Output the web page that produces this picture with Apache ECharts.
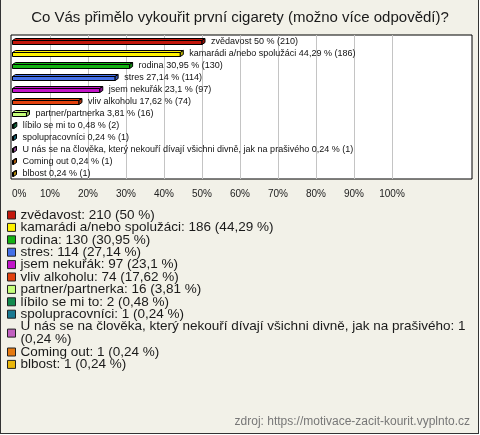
<!DOCTYPE html>
<html>
<head>
<meta charset="utf-8">
<script src="https://cdn.jsdelivr.net/npm/echarts@6/dist/echarts.min.js"></script>
<style>
html,body{margin:0;padding:0;background:#fff;}
#wrap{width:479px;height:434px;border-right:1px solid #333;border-bottom:1px solid #333;border-left:1px solid #333;box-sizing:border-box;background:#f2f1e8;}
#chart{width:478px;height:434px;}
</style>
</head>
<body>
<div id="wrap"><div id="chart"></div></div>
<script>
const titleText = 'Co Vás přimělo vykouřit první cigarety (možno více odpovědí)?';
const sourceText = 'zdroj: https://motivace-zacit-kourit.vyplnto.cz';
const categories = [
  'zvědavost',
  'kamarádi a/nebo spolužáci',
  'rodina',
  'stres',
  'jsem nekuřák',
  'vliv alkoholu',
  'partner/partnerka',
  'líbilo se mi to',
  'spolupracovníci',
  'U nás se na člověka, který nekouří dívají všichni divně, jak na prašivého',
  'Coming out',
  'blbost'
];
const counts = [210, 186, 130, 114, 97, 74, 16, 2, 1, 1, 1, 1];
const percents = [50, 44.29, 30.95, 27.14, 23.1, 17.62, 3.81, 0.48, 0.24, 0.24, 0.24, 0.24];
const colors = ['#c3170c', '#fff200', '#12b212', '#4470e8', '#c214c8', '#e2410e',
                '#c6ff7a', '#128a4e', '#1a7a92', '#c160c0', '#e57a12', '#e9b60a'];
const tickValues = [0, 10, 20, 30, 40, 50, 60, 70, 80, 90, 100];

const FONT = "'Liberation Sans', Arial, sans-serif";
const fmtPct = v => String(v).replace('.', ',');

function shade(hex, f) {
  const n = parseInt(hex.slice(1), 16);
  const r = Math.round(((n >> 16) & 255) * f), g = Math.round(((n >> 8) & 255) * f), b = Math.round((n & 255) * f);
  return 'rgb(' + r + ',' + g + ',' + b + ')';
}

function renderBar(params, api) {
  const i = params.seriesIndex;
  const v = api.value(0);
  const c = api.value(1);
  const p0 = api.coord([0, c]);
  const p1 = api.coord([v, c]);
  const x0 = Math.round(p0[0]) + 0.5;
  const x1 = Math.max(p1[0], x0 + 1);
  const yc = Math.round(p0[1]) + 0.5;
  const d = 3;
  const col = colors[i];
  const stroke = {stroke: '#000', lineWidth: 1};
  return {
    type: 'group',
    children: [
      {type: 'polygon', shape: {points: [[x0, yc - 1], [x1, yc - 1], [x1, yc + 3], [x0, yc + 3]]},
       style: Object.assign({fill: col}, stroke)},
      {type: 'polygon', shape: {points: [[x0, yc - 1], [x0 + d, yc - 3], [x1 + d, yc - 3], [x1, yc - 1]]},
       style: Object.assign({fill: col}, stroke)},
      {type: 'polygon', shape: {points: [[x1, yc - 1], [x1 + d, yc - 3], [x1 + d, yc + 1], [x1, yc + 3]]},
       style: Object.assign({fill: shade(col, 0.75)}, stroke)},
      {type: 'text', x: x1 + d + 6, y: yc,
       style: {text: categories[i] + ' ' + fmtPct(percents[i]) + ' % (' + counts[i] + ')',
               fill: '#111', font: '9px ' + FONT, verticalAlign: 'middle', align: 'left'}}
    ]
  };
}

const series = categories.map((name, i) => ({
  type: 'custom',
  name: name,
  xAxisIndex: 0,
  yAxisIndex: 0,
  itemStyle: {color: colors[i]},
  renderItem: renderBar,
  encode: {x: 0, y: 1},
  clip: false,
  data: [[percents[i], name]]
}));

const chart = echarts.init(document.getElementById('chart'), null, {renderer: 'canvas'});
chart.setOption({
  animation: false,
  textStyle: {fontFamily: FONT},
  title: [
    {text: titleText, left: 'center', top: 10, padding: 0,
     textStyle: {fontSize: 15, fontWeight: 'normal', color: '#1a1a1a', fontFamily: FONT}},
    {text: sourceText, right: 9, bottom: 6, padding: 0,
     textStyle: {fontSize: 12, fontWeight: 'normal', color: '#777', fontFamily: FONT}}
  ],
  grid: [
    {left: 11, top: 35, width: 380, height: 144, containLabel: false},
    {left: 10, top: 35, width: 461, height: 144, show: true, backgroundColor: '#fff',
     borderColor: '#000', borderWidth: 1, z: -5}
  ],
  xAxis: [
    {type: 'value', gridIndex: 0, min: tickValues[0], max: tickValues[tickValues.length - 1], interval: 10,
     axisLine: {show: false}, axisTick: {show: false},
     splitLine: {show: true, showMinLine: false, lineStyle: {color: '#c4c4c4', width: 1}},
     axisLabel: {formatter: v => v + '%', fontSize: 10, color: '#222', margin: 10, alignMinLabel: 'left', fontFamily: FONT}},
    {type: 'value', gridIndex: 1, show: false}
  ],
  yAxis: [
    {type: 'category', gridIndex: 0, data: categories, inverse: true, show: false},
    {type: 'value', gridIndex: 1, show: false}
  ],
  legend: {
    data: categories,
    orient: 'vertical',
    left: 6,
    top: 208,
    itemWidth: 8,
    itemHeight: 8,
    itemGap: -1.6,
    icon: 'rect',
    itemStyle: {borderColor: '#222', borderWidth: 1},
    selectedMode: false,
    padding: 0,
    formatter: name => {
      const i = categories.indexOf(name);
      const sep = name.length > 50 ? '\n' : ' ';
      return name + ': ' + counts[i] + sep + '(' + fmtPct(percents[i]) + ' %)';
    },
    textStyle: {fontSize: 13.5, color: '#1a1a1a', lineHeight: 13, fontFamily: FONT}
  },
  series: series
});
</script>
</body>
</html>
